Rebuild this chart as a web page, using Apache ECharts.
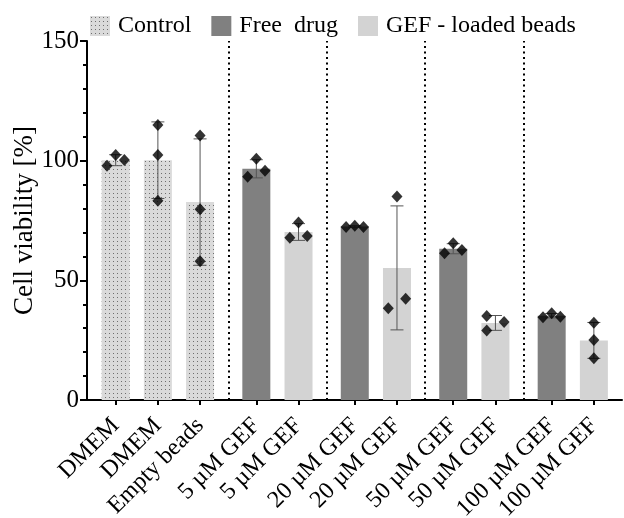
<!DOCTYPE html>
<html>
<head>
<meta charset="utf-8">
<script src="https://cdn.jsdelivr.net/npm/echarts@6/dist/echarts.min.js"></script>
<style>html,body{margin:0;padding:0;background:#fff}#c{width:624px;height:518px}</style>
</head>
<body>
<div id="c"></div>
<script>
// ---- data ----
const categories = ['DMEM','DMEM','Empty beads','5 µM GEF','5 µM GEF','20 µM GEF','20 µM GEF','50 µM GEF','50 µM GEF','100 µM GEF','100 µM GEF'];
const groupOf = ['Control','Control','Control','Free  drug','GEF - loaded beads','Free  drug','GEF - loaded beads','Free  drug','GEF - loaded beads','Free  drug','GEF - loaded beads'];
const blockOf = [0,0,0,1,1,2,2,3,3,4,4];
const means = [100.2, 100.2, 82.7, 96.6, 70.2, 72.5, 55.2, 63.2, 32.2, 35.2, 24.9];
const sds   = [2.3, 16.0, 26.4, 3.8, 3.5, 0.3, 25.9, 2.1, 3.1, 0.9, 7.5];
const rep1  = [97.9, 114.9, 110.5, 93.3, 67.8, 72.3, 85.0, 61.3, 35.1, 34.6, 32.3];
const rep2  = [102.4, 102.4, 79.7, 100.8, 74.2, 72.8, 38.3, 65.5, 29.0, 36.2, 25.1];
const rep3  = [100.3, 83.2, 58.0, 95.8, 68.5, 72.3, 42.3, 62.7, 32.6, 34.8, 17.4];
const seriesNames = ['Control','Free  drug','GEF - loaded beads'];
const yTicks = [0, 50, 100, 150];

// ---- layout (not data) ----
const jit1 = [-1, 0, 0, -1, -1, -1, 0, -1, -1, -1, 0];
const jit2 = [ 0, 0, 0,  0,  0,  0, -1, 0, -1,  0, 0];
const jit3 = [ 1, 0, 0,  1,  1,  1, 1,  1,  1,  1, 0];
const JSTEP = 0.206;
const pos = categories.map((c, i) => i + blockOf[i] / 3);
const dividers = [];
for (let i = 1; i < pos.length; i++) if (blockOf[i] !== blockOf[i-1]) dividers.push((pos[i] + pos[i-1]) / 2);

const FONT = 'Liberation Serif';

// dotted pattern for control
const pc = document.createElement('canvas');
pc.width = 4; pc.height = 4;
const pctx = pc.getContext('2d');
pctx.fillStyle = '#dadada'; pctx.fillRect(0,0,4,4);
pctx.fillStyle = '#6e6e6e'; pctx.fillRect(1,1,1,1);
const pattern = {image: pc, repeat: 'repeat'};
const colors = {'Control': pattern, 'Free  drug': '#808080', 'GEF - loaded beads': '#d3d3d3'};

const barSeries = seriesNames.map(name => ({
  name: name,
  type: 'bar',
  barWidth: 28,
  barGap: '-100%',
  itemStyle: {color: colors[name]},
  data: categories.map((c, i) => groupOf[i] === name ? [pos[i], means[i]] : null).filter(d => d),
  z: 2
}));

const errData = categories.map((c, i) => [pos[i], means[i] - sds[i], means[i] + sds[i]]);
const ptsData = [];
categories.forEach((c, i) => {
  ptsData.push([pos[i] + jit1[i] * JSTEP, rep1[i]]);
  ptsData.push([pos[i] + jit2[i] * JSTEP, rep2[i]]);
  ptsData.push([pos[i] + jit3[i] * JSTEP, rep3[i]]);
});

const chart = echarts.init(document.getElementById('c'), null, {renderer: 'canvas'});
chart.setOption({
  animation: false,
  textStyle: {fontFamily: FONT},
  grid: {left: 87, right: 2, top: 41, bottom: 118, containLabel: false, outerBoundsMode: 'none'},
  legend: {
    data: seriesNames,
    left: 85, top: 9,
    itemWidth: 20, itemHeight: 20, itemGap: 20,
    icon: 'rect',
    textStyle: {fontFamily: FONT, fontSize: 24, color: '#000', padding: [0, 0, 0, 3]}
  },
  xAxis: {
    type: 'value',
    min: -0.68, max: 12.0,
    splitLine: {show: false},
    axisLine: {show: true, onZero: false, lineStyle: {color: '#000', width: 2}},
    axisTick: {show: true, customValues: pos, length: 5, lineStyle: {color: '#000', width: 2}},
    axisLabel: {
      customValues: pos,
      rotate: 45,
      margin: 22,
      verticalAlign: 'middle',
      padding: [18, 0, 0, 0],
      fontFamily: FONT, fontSize: 24, color: '#000',
      formatter: v => {
        let best = 0;
        pos.forEach((p, i) => { if (Math.abs(p - v) < Math.abs(pos[best] - v)) best = i; });
        return categories[best];
      }
    }
  },
  yAxis: {
    type: 'value',
    min: 0, max: 150, interval: 50,
    name: 'Cell viability [%]',
    nameLocation: 'middle',
    nameGap: 49,
    nameMoveOverlap: false,
    nameTextStyle: {fontFamily: FONT, fontSize: 27, color: '#000'},
    splitLine: {show: false},
    axisLine: {show: true, onZero: false, lineStyle: {color: '#000', width: 2}},
    axisTick: {show: true, length: 7, lineStyle: {color: '#000', width: 2}},
    minorTick: {show: true, splitNumber: 5, length: 4, lineStyle: {color: '#000', width: 2}},
    axisLabel: {
      margin: 8, fontFamily: FONT, fontSize: 25, color: '#000',
      formatter: v => yTicks.indexOf(v) >= 0 ? String(v) : ''
    }
  },
  series: barSeries.concat([
    {
      type: 'custom',
      name: 'err',
      z: 3,
      renderItem: (params, api) => {
        const x = api.value(0);
        const lo = api.coord([x, api.value(1)]);
        const hi = api.coord([x, api.value(2)]);
        const hw = 6.5;
        const st = {stroke: '#555', lineWidth: 1};
        return {type: 'group', children: [
          {type: 'line', shape: {x1: lo[0], y1: lo[1], x2: hi[0], y2: hi[1]}, style: st},
          {type: 'line', shape: {x1: lo[0]-hw, y1: lo[1], x2: lo[0]+hw, y2: lo[1]}, style: st},
          {type: 'line', shape: {x1: hi[0]-hw, y1: hi[1], x2: hi[0]+hw, y2: hi[1]}, style: st}
        ]};
      },
      encode: {x: 0, y: [1, 2]},
      data: errData
    },
    {
      type: 'scatter',
      name: 'pts',
      z: 4,
      symbol: 'diamond',
      symbolSize: [11, 12],
      itemStyle: {color: '#000'},
      data: ptsData,
      markLine: {
        silent: true,
        symbol: ['none', 'none'],
        label: {show: false},
        lineStyle: {color: '#000', width: 2, type: [2, 3.5]},
        data: dividers.map(d => ({xAxis: d}))
      }
    }
  ])
});
</script>
</body>
</html>
